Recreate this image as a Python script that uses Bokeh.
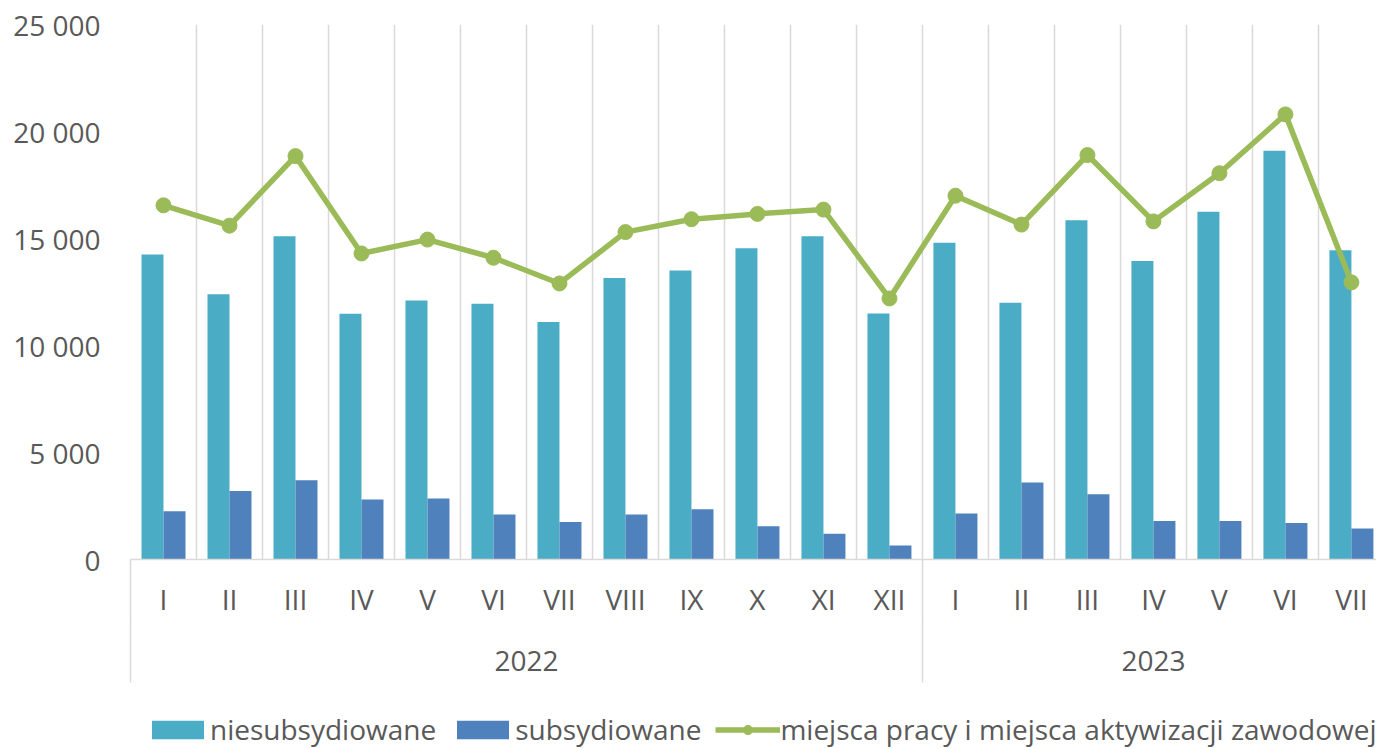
from bokeh.plotting import figure
from bokeh.layouts import column
from bokeh.models import (ColumnDataSource, Range1d, FixedTicker, LinearAxis, Grid,
                          Legend, LegendItem)
from bokeh.transform import dodge
from bokeh.embed import file_html
from bokeh.resources import INLINE

months = ["I", "II", "III", "IV", "V", "VI", "VII", "VIII", "IX", "X", "XI", "XII",
          "I", "II", "III", "IV", "V", "VI", "VII"]
years = ["2022", "2023"]
year_counts = [12, 7]

niesubsydiowane = [14250, 12400, 15100, 11480, 12100, 11950, 11100, 13150, 13500, 14550, 15100, 11500,
                   14800, 12000, 15850, 13950, 16250, 19100, 14450]
subsydiowane = [2250, 3200, 3700, 2800, 2850, 2100, 1750, 2100, 2350, 1550, 1200, 650,
                2150, 3600, 3050, 1800, 1800, 1700, 1450]
miejsca = [16550, 15600, 18850, 14300, 14950, 14100, 12900, 15300, 15900, 16150, 16350, 12200,
           17000, 15650, 18900, 15800, 18050, 20800, 12950]

series_names = ["niesubsydiowane", "subsydiowane", "miejsca pracy i miejsca aktywizacji zawodowej"]

y_ticks = [0, 5000, 10000, 15000, 20000, 25000]
y_labels = ["0", "5 000", "10 000", "15 000", "20 000", "25 000"]

TEAL = "#4BACC6"
BLUE = "#4F81BD"
GREEN = "#9BBB59"
TXT = "#595959"
GRID = "#D9D9D9"
FONT = "Open Sans"
FS = "28px"

n = len(months)
centers = [i + 0.5 for i in range(n)]
boundaries = list(range(n))
year_bounds = [0]
for c in year_counts:
    year_bounds.append(year_bounds[-1] + c)
year_centers = [(year_bounds[k] + year_bounds[k + 1]) / 2 for k in range(len(years))]
year_seps = year_bounds[:-1]

src = ColumnDataSource(dict(x=centers, nies=niesubsydiowane, sub=subsydiowane, mie=miejsca))


def draw_series(fig):
    a = fig.vbar(x=dodge("x", -1/6, range=fig.x_range), top="nies", width=1/3, source=src,
                 fill_color=TEAL, line_color=None)
    b = fig.vbar(x=dodge("x", 1/6, range=fig.x_range), top="sub", width=1/3, source=src,
                 fill_color=BLUE, line_color=None)
    c = fig.line(x="x", y="mie", source=src, line_color=GREEN, line_width=5.5)
    d = fig.scatter(x="x", y="mie", source=src, size=15, fill_color=GREEN, line_color=GREEN)
    return a, b, c, d


p = figure(frame_width=1246, frame_height=535, output_backend="svg", toolbar_location=None,
           x_range=Range1d(0, 18.88), y_range=Range1d(0, 25000),
           min_border_left=130, min_border_right=0, min_border_top=24, min_border_bottom=130,
           x_axis_location=None, y_axis_location=None)
p.outline_line_color = None
p.background_fill_color = "white"
p.border_fill_color = "white"
draw_series(p)

# y axis
yax = LinearAxis(ticker=FixedTicker(ticks=y_ticks, minor_ticks=[]),
                 major_label_overrides={t: l for t, l in zip(y_ticks, y_labels)})
yax.axis_line_color = None
yax.major_tick_line_color = None
yax.minor_tick_line_color = None
yax.major_tick_out = 0
yax.minor_tick_out = 0
yax.major_label_standoff = 30
yax.major_label_text_font = FONT
yax.major_label_text_font_size = FS
yax.major_label_text_color = TXT
p.add_layout(yax, "left")

# month axis
max_ = LinearAxis(ticker=FixedTicker(ticks=centers, minor_ticks=year_seps),
                  major_label_overrides={c: m for c, m in zip(centers, months)})
max_.axis_line_color = GRID
max_.axis_line_width = 1.5
max_.major_tick_line_color = None
max_.major_tick_out = 0
max_.major_tick_in = 0
max_.minor_tick_line_color = GRID
max_.minor_tick_line_width = 1.5
max_.minor_tick_out = 0
max_.minor_tick_in = -62
max_.major_label_standoff = 20
max_.major_label_text_font = FONT
max_.major_label_text_font_size = FS
max_.major_label_text_color = TXT
p.add_layout(max_, "below")

# year axis
yrax = LinearAxis(ticker=FixedTicker(ticks=year_centers, minor_ticks=year_seps),
                  major_label_overrides={c: y for c, y in zip(year_centers, years)})
yrax.axis_line_color = None
yrax.major_tick_line_color = None
yrax.major_tick_out = 0
yrax.major_tick_in = 0
yrax.minor_tick_line_color = GRID
yrax.minor_tick_line_width = 1.5
yrax.minor_tick_out = 0
yrax.minor_tick_in = -62
yrax.major_label_standoff = 30
yrax.major_label_text_font = FONT
yrax.major_label_text_font_size = FS
yrax.major_label_text_color = TXT
p.add_layout(yrax, "below")

p.xgrid.visible = False
p.ygrid.visible = False
vgrid = Grid(dimension=0, ticker=FixedTicker(ticks=boundaries), grid_line_color=GRID,
             grid_line_width=1.5)
p.add_layout(vgrid)

# legend strip below the chart; its series renderers lie entirely outside its view
lf = figure(width=1376, height=59, output_backend="svg", toolbar_location=None,
            x_range=Range1d(1000, 1001), y_range=Range1d(1e6, 1e6 + 1),
            min_border=0, x_axis_location=None, y_axis_location=None)
lf.outline_line_color = None
lf.xgrid.visible = False
lf.ygrid.visible = False
k1, k2, k3, k4 = draw_series(lf)

legend = Legend(items=[
    LegendItem(label=series_names[0], renderers=[k1]),
    LegendItem(label=series_names[1], renderers=[k2]),
    LegendItem(label=series_names[2], renderers=[k3, k4]),
], orientation="horizontal", location=(15, 0))
legend.glyph_width = 65
legend.glyph_height = 23
legend.label_standoff = 0
legend.spacing = 14
legend.padding = 0
legend.margin = 0
legend.border_line_color = None
legend.background_fill_alpha = 0
legend.label_text_font = FONT
legend.label_text_font_size = FS
legend.label_text_color = TXT
lf.add_layout(legend)

layout = column(p, lf, spacing=0)
open("out.html", "w").write(file_html(layout, INLINE))
